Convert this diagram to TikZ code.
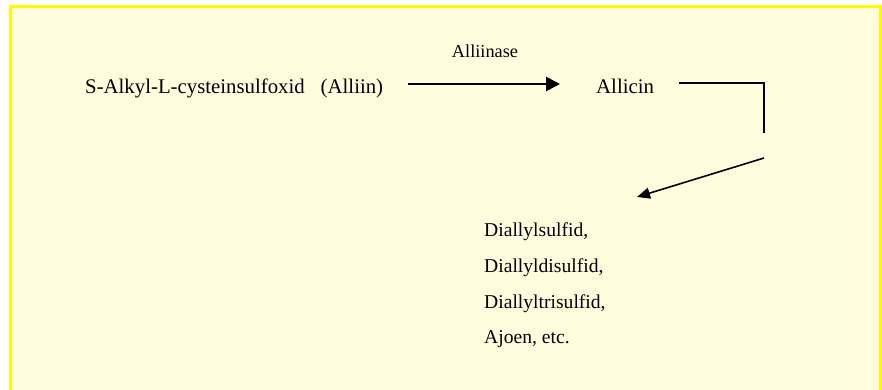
\documentclass[tikz,border=0pt]{standalone}
\usepackage{fontspec}
\setmainfont{Liberation Serif}
\usetikzlibrary{arrows.meta}
\definecolor{paper}{RGB}{255,253,222}
\definecolor{frame}{RGB}{255,250,0}
\tikzset{
  chem/.style={font=\fontsize{20.8}{24}\selectfont, inner sep=0pt, anchor=base west},
  product/.style={font=\fontsize{19.6}{22}\selectfont, inner sep=0pt, anchor=base west},
  enzym/.style={font=\fontsize{18.3}{21}\selectfont, inner sep=0pt, anchor=base},
}
\begin{document}
\begin{tikzpicture}[x=1pt,y=-1pt,>={Triangle[length=14pt,width=14pt]}]
\useasboundingbox (0,0) rectangle (882,389);
\clip (0,0) rectangle (882,389);
\draw[frame, line width=3pt, fill=paper](10.5,6.5) rectangle (880.5,420);

\node[chem] (alliin) at (85,93) {S-Alkyl-L-cysteinsulfoxid\hspace{16pt}(Alliin)};
\node[chem] (allicin) at (596,93) {Allicin};
\node[enzym] (enzyme) at (485,57) {Alliinase};
\coordinate (start) at (408,84);
\coordinate (end) at (560,84);
\draw[->, line width=2.8pt](start)--(end);

% Abbau von Allicin
\coordinate (corner) at (764,83);
\coordinate (down) at (764,133);
\draw[line width=1.3pt](679,83)--(corner)--(down);
\coordinate (from) at (764,158);
\coordinate (to) at (637,197);
\draw[->, >={Triangle[length=13pt,width=11pt]}, line width=1.6pt](from)--(to);

\foreach \y/\t/\n in {236/{Diallylsulfid,}/p1, 272/{Diallyldisulfid,}/p2, 308/{Diallyltrisulfid,}/p3, 343/{Ajoen, etc.}/p4}
{
    \node[product] (\n) at (484,\y) {\t};
}
\end{tikzpicture}
\end{document}
